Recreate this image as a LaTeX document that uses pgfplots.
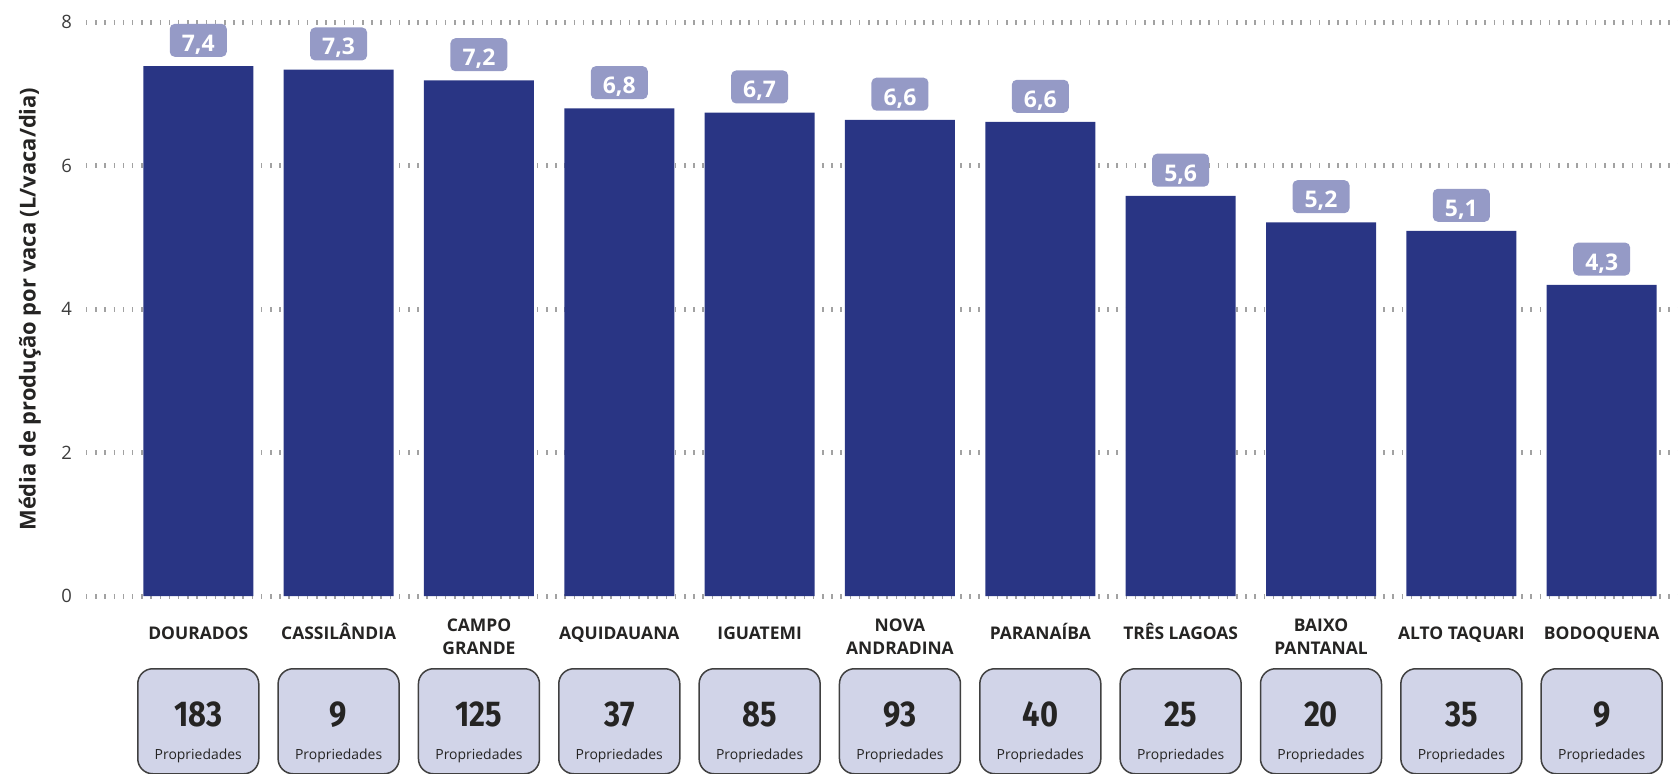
\documentclass[border=0pt]{standalone}
\usepackage{fontspec}
\setmainfont{Open Sans}
\newfontfamily\numfont[FakeStretch=0.86]{Fira Sans}
\usepackage{pgfplots}
\pgfplotsset{compat=1.18}
\usepackage{pgfplotstable}

\definecolor{barblue}{HTML}{293584}
\definecolor{valbox}{HTML}{959AC6}
\definecolor{cntbox}{HTML}{D1D4E8}
\definecolor{cntedge}{HTML}{404040}
\definecolor{ink}{HTML}{252423}
\definecolor{tickgray}{HTML}{3C3C3C}
\definecolor{gridgray}{HTML}{A2A2A2}

% idx, mean litres per cow per day, number of farms
\pgfplotstableread{
idx val cnt
0 7.39 183
1 7.34 9
2 7.19 125
3 6.80 37
4 6.74 85
5 6.64 93
6 6.61 40
7 5.58 25
8 5.21 20
9 5.09 35
10 4.34 9
}\datatable

\begin{document}
\begin{tikzpicture}
\begin{axis}[
  at={(0,0)}, anchor=south west, scale only axis,
  width=1592bp, height=573.7bp,
  xmin=-0.80, xmax=10.544, ymin=0, ymax=8,
  clip=false,
  axis line style={draw=none}, major tick length=0pt,
  ytick={0,2,4,6,8},
  ymajorgrids,
  major grid style={draw=gridgray, line width=5bp, dash pattern=on 1.5bp off 7.7bp},
  yticklabel style={font=\fontsize{18.5}{20}\selectfont, text=tickgray, anchor=east, inner sep=0pt, xshift=-14bp},
  /pgf/number format/assume math mode=true,
  xtick={0,...,10},
  xticklabels={DOURADOS, CASSILÂNDIA, {CAMPO\\GRANDE}, AQUIDAUANA, IGUATEMI, {NOVA\\ANDRADINA}, PARANAÍBA, TRÊS LAGOAS, {BAIXO\\PANTANAL}, ALTO TAQUARI, BODOQUENA},
  xticklabel style={font=\fontsize{17.5}{23}\selectfont\bfseries, text=ink, align=center, anchor=north, inner sep=0pt, yshift=-23bp, execute at begin node={\rule{0pt}{20bp}}},
  ylabel={Média de produção por vaca (L/vaca/dia)},
  ylabel style={at={(axis description cs:-0.0352,0.5)}, anchor=center, font=\fontsize{22}{25}\selectfont\bfseries, text=ink},
]
\addplot[ybar, bar width=110bp, bar shift=0pt, fill=barblue, draw=none,
  nodes near coords,
  nodes near coords style={/pgf/number format/fixed, /pgf/number format/fixed zerofill,
    /pgf/number format/precision=1, /pgf/number format/use comma},
  every node near coord/.append style={fill=valbox, text=white, font=\fontsize{23}{26}\selectfont\bfseries,
    rounded corners=5bp, minimum width=57bp, minimum height=33bp, inner sep=0pt,
    text height=22bp, text depth=0pt, anchor=south, yshift=9bp}]
  table[x=idx, y=val] {\datatable};
% boxes under the categories
\addplot[draw=none, mark=none, point meta=explicit symbolic,
  nodes near coords={\null},
  every node near coord/.append style={draw=cntedge, line width=1.5bp, fill=cntbox, rounded corners=15bp,
    minimum width=121bp, minimum height=105bp, inner sep=0pt, anchor=north, yshift=-72bp}]
  table[x=idx, y expr=0, meta=cnt] {\datatable};
\addplot[draw=none, mark=none, point meta=explicit symbolic,
  nodes near coords,
  every node near coord/.append style={text=ink, font=\numfont\bfseries\fontsize{36}{40}\selectfont,
    inner sep=0pt, anchor=base, yshift=-130.7bp}]
  table[x=idx, y expr=0, meta=cnt] {\datatable};
\addplot[draw=none, mark=none, point meta=explicit symbolic,
  nodes near coords={Propriedades},
  every node near coord/.append style={text=ink, font=\fontsize{14}{16}\selectfont,
    inner sep=0pt, anchor=base, yshift=-163.3bp}]
  table[x=idx, y expr=0, meta=cnt] {\datatable};
\end{axis}
\pgfresetboundingbox
\path[use as bounding box] (-86bp,-178bp) rectangle (1592bp,596bp);
\end{tikzpicture}
\end{document}
